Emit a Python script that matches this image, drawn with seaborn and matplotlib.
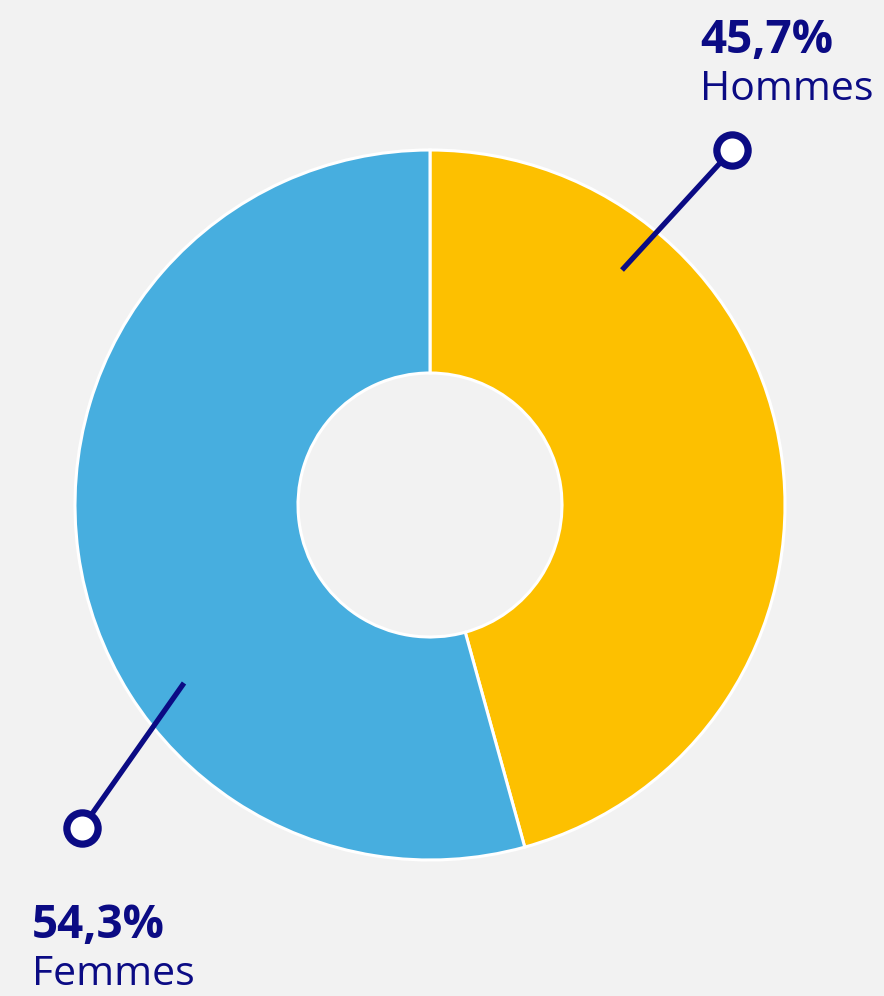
import matplotlib
matplotlib.use("Agg")
import matplotlib.pyplot as plt
import seaborn as sns

# ---- data ----
categories = ["Hommes", "Femmes"]
values = [45.7, 54.3]
value_labels = ["45,7%", "54,3%"]

# ---- style ----
sns.set_style("white")
plt.rcParams["font.family"] = ["Open Sans", "DejaVu Sans"]
palette = sns.color_palette(["#FDC000", "#47AEDF"])
navy = "#0B0B84"
bg = "#F2F2F2"

W, H = 884, 996
fig = plt.figure(figsize=(W / 100, H / 100), dpi=100, facecolor=bg)
ax = fig.add_axes([0, 0, 1, 1])
ax.set_facecolor(bg)

def py(y):
    """convert top-down pixel y into axis y"""
    return H - y

cx, cy = 430, py(505)
R, r_in = 355, 132

ax.pie(values, colors=palette, startangle=90, counterclock=False,
       center=(cx, cy), radius=R, frame=True,
       wedgeprops=dict(width=R - r_in, edgecolor="white", linewidth=2.2))
ax.set_xlim(0, W)
ax.set_ylim(0, H)
ax.set_aspect("equal")
ax.axis("off")

# leader lines (annotations)
leaders = {
    "Hommes": ((622, 270), (732, 150)),
    "Femmes": ((184, 683), (82, 828)),
}
for cat in categories:
    (x0, y0), (x1, y1) = leaders[cat]
    ax.plot([x0, x1], [py(y0), py(y1)], color=navy, lw=3.8,
            solid_capstyle="butt", zorder=5)
    ax.plot([x1], [py(y1)], marker="o", ms=22.5, mfc="white", mec=navy,
            mew=5.2, zorder=6)

# labels
label_pos = {
    "Hommes": (700, 53, 100),
    "Femmes": (32, 938, 985),
}
for cat, vl in zip(categories, value_labels):
    x, yb1, yb2 = label_pos[cat]
    ax.text(x, py(yb1), vl, color=navy, fontsize=33, fontweight="bold",
            ha="left", va="baseline")
    ax.text(x, py(yb2), cat, color=navy, fontsize=29.5,
            ha="left", va="baseline")

fig.savefig("out.png", dpi=100, facecolor=bg)
